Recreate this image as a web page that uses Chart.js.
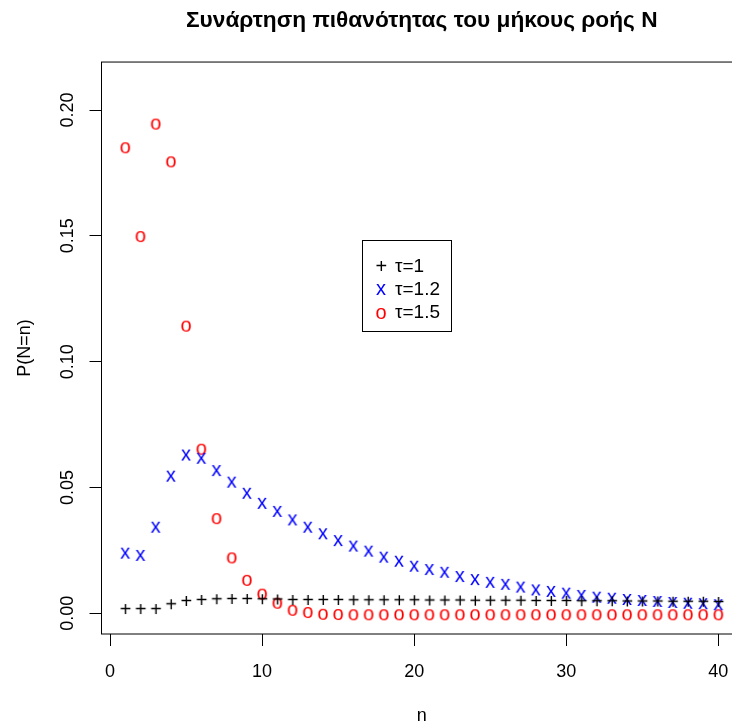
<!DOCTYPE html>
<html>
<head>
<meta charset="utf-8">
<script src="https://cdn.jsdelivr.net/npm/chart.js@4"></script>
<style>
html, body { margin: 0; padding: 0; overflow: hidden; background: #ffffff; }
canvas { display: block; }
</style>
</head>
<body>
<canvas id="chart" width="760" height="727"></canvas>
<script>
/* data */
const nValues = [1, 2, 3, 4, 5, 6, 7, 8, 9, 10, 11, 12, 13, 14, 15, 16, 17, 18, 19, 20,
                 21, 22, 23, 24, 25, 26, 27, 28, 29, 30, 31, 32, 33, 34, 35, 36, 37, 38, 39, 40];

const tau1 = [0.0017, 0.0017, 0.0017, 0.0036, 0.0049, 0.0053, 0.0056, 0.0057, 0.0057, 0.0056,
              0.0055, 0.0053, 0.0053, 0.0053, 0.0053, 0.0052, 0.0052, 0.0052, 0.0052, 0.0052,
              0.0051, 0.0051, 0.0051, 0.0050, 0.0050, 0.0050, 0.0050, 0.0049, 0.0049, 0.0049,
              0.0048, 0.0048, 0.0048, 0.0047, 0.0047, 0.0047, 0.0046, 0.0046, 0.0046, 0.0045];

const tau12 = [0.0241, 0.0232, 0.0344, 0.0547, 0.0631, 0.0618, 0.0569, 0.0523, 0.0479, 0.0439,
               0.0407, 0.0373, 0.0344, 0.0318, 0.0291, 0.0269, 0.0249, 0.0225, 0.0209, 0.0189,
               0.0176, 0.0165, 0.0148, 0.0136, 0.0125, 0.0117, 0.0106, 0.0095, 0.0089, 0.0082,
               0.0073, 0.0066, 0.0062, 0.0057, 0.0053, 0.0049, 0.0045, 0.0042, 0.0040, 0.0036];

const tau15 = [0.1856, 0.1503, 0.1950, 0.1800, 0.1147, 0.0658, 0.0382, 0.0226, 0.0137, 0.0082,
               0.0046, 0.0018, 0.0009, 0.0002, 0.0001, 0, 0, 0, 0, 0,
               0, 0, 0, 0, 0, 0, 0, 0, 0, 0,
               0, 0, 0, 0, 0, 0, 0, 0, 0, 0];

const seriesLabels = ['τ=1', 'τ=1.2', 'τ=1.5'];
const xTicks = [0, 10, 20, 30, 40];
const yTicks = [0, 0.05, 0.10, 0.15, 0.20];

/* settings */
const FONT = '"Liberation Sans", Arial, Helvetica, sans-serif';
const BASE = 18;
const MARK = 20;

/* R-style character markers (pch = "+", "x", "o") */
function makeGlyph(ch, color, dy) {
    const c = document.createElement('canvas');
    c.width = 26;
    c.height = 26;
    const g = c.getContext('2d');
    g.font = MARK + 'px ' + FONT;
    g.fillStyle = color;
    g.textAlign = 'left';
    g.textBaseline = 'alphabetic';
    const m = g.measureText(ch);
    const x = 13 - (m.actualBoundingBoxRight - m.actualBoundingBoxLeft) / 2;
    const y = 13 + (m.actualBoundingBoxAscent - m.actualBoundingBoxDescent) / 2 + dy;
    g.fillText(ch, x, y);
    return c;
}

const glyphs = [
    makeGlyph('+', '#000000', 0),
    makeGlyph('x', '#0000ff', 0),
    makeGlyph('o', '#ff0000', 1)
];

function toPoints(values) {
    return values.map((v, i) => ({ x: nValues[i], y: v }));
}

/* box round the plot region, like R's box() */
const boxPlugin = {
    id: 'boxPlugin',
    afterDraw(chart) {
        const a = chart.chartArea;
        const ctx = chart.ctx;
        ctx.save();
        ctx.strokeStyle = '#000000';
        ctx.lineWidth = 1;
        ctx.strokeRect(a.left, a.top, a.right - a.left, a.bottom - a.top);
        ctx.restore();
    }
};

/* legend box in the plot, drawn from the datasets */
const legendPlugin = {
    id: 'legendPlugin',
    afterDraw(chart) {
        const ctx = chart.ctx;
        ctx.save();
        ctx.strokeStyle = '#000000';
        ctx.lineWidth = 1;
        ctx.strokeRect(362.5, 240.5, 89, 91);
        ctx.font = '19px ' + FONT;
        ctx.fillStyle = '#000000';
        ctx.textAlign = 'left';
        ctx.textBaseline = 'middle';
        chart.data.datasets.forEach((ds, i) => {
            const y = 266 + i * 23;
            const img = ds.pointStyle;
            ctx.drawImage(img, 381 - img.width / 2, y - img.height / 2);
            ctx.fillText(ds.label, 395, y + 1);
        });
        ctx.restore();
    }
};

new Chart(document.getElementById('chart'), {
    type: 'scatter',
    data: {
        datasets: [
            { label: seriesLabels[0], data: toPoints(tau1), pointStyle: glyphs[0], pointRadius: 5 },
            { label: seriesLabels[1], data: toPoints(tau12), pointStyle: glyphs[1], pointRadius: 5 },
            { label: seriesLabels[2], data: toPoints(tau15), pointStyle: glyphs[2], pointRadius: 5 }
        ]
    },
    options: {
        responsive: false,
        animation: false,
        devicePixelRatio: 1,
        layout: { padding: { left: 0, right: 18, top: 0, bottom: 0 } },
        plugins: {
            legend: { display: false },
            tooltip: { enabled: false },
            title: {
                display: true,
                fullSize: false,
                text: 'Συνάρτηση πιθανότητας του μήκους ροής N',
                color: '#000000',
                font: { family: FONT, size: 22.7, weight: 'bold', lineHeight: 1.2 },
                padding: { top: 7, bottom: 27.8 }
            }
        },
        scales: {
            x: {
                type: 'linear',
                min: -0.56,
                max: 41.56,
                afterFit(s) { s.height = 93; },
                afterBuildTicks(s) { s.ticks = xTicks.map(v => ({ value: v })); },
                border: { display: false },
                grid: { drawOnChartArea: false, drawTicks: true, tickLength: 12, color: '#000000', lineWidth: 1 },
                ticks: {
                    color: '#000000',
                    font: { family: FONT, size: BASE },
                    padding: 15,
                    maxRotation: 0,
                    callback: v => String(v)
                },
                title: {
                    display: true,
                    text: 'n',
                    color: '#000000',
                    font: { family: FONT, size: BASE, lineHeight: 1.2 },
                    padding: { top: 5, bottom: 0 }
                }
            },
            y: {
                type: 'linear',
                min: -0.00823,
                max: 0.21907,
                afterFit(s) { s.width = 101.5; },
                afterBuildTicks(s) { s.ticks = yTicks.map(v => ({ value: v })); },
                border: { display: false },
                grid: { drawOnChartArea: false, drawTicks: true, tickLength: 12, color: '#000000', lineWidth: 1 },
                ticks: {
                    color: '#000000',
                    font: { family: FONT, size: BASE },
                    padding: 4,
                    minRotation: 90,
                    maxRotation: 90,
                    crossAlign: 'center',
                    callback: v => v.toFixed(2)
                },
                title: {
                    display: true,
                    text: 'P(N=n)',
                    color: '#000000',
                    font: { family: FONT, size: BASE, lineHeight: 1.2 },
                    padding: { top: 14, bottom: 0 }
                }
            }
        }
    },
    plugins: [boxPlugin, legendPlugin]
});
</script>
</body>
</html>
